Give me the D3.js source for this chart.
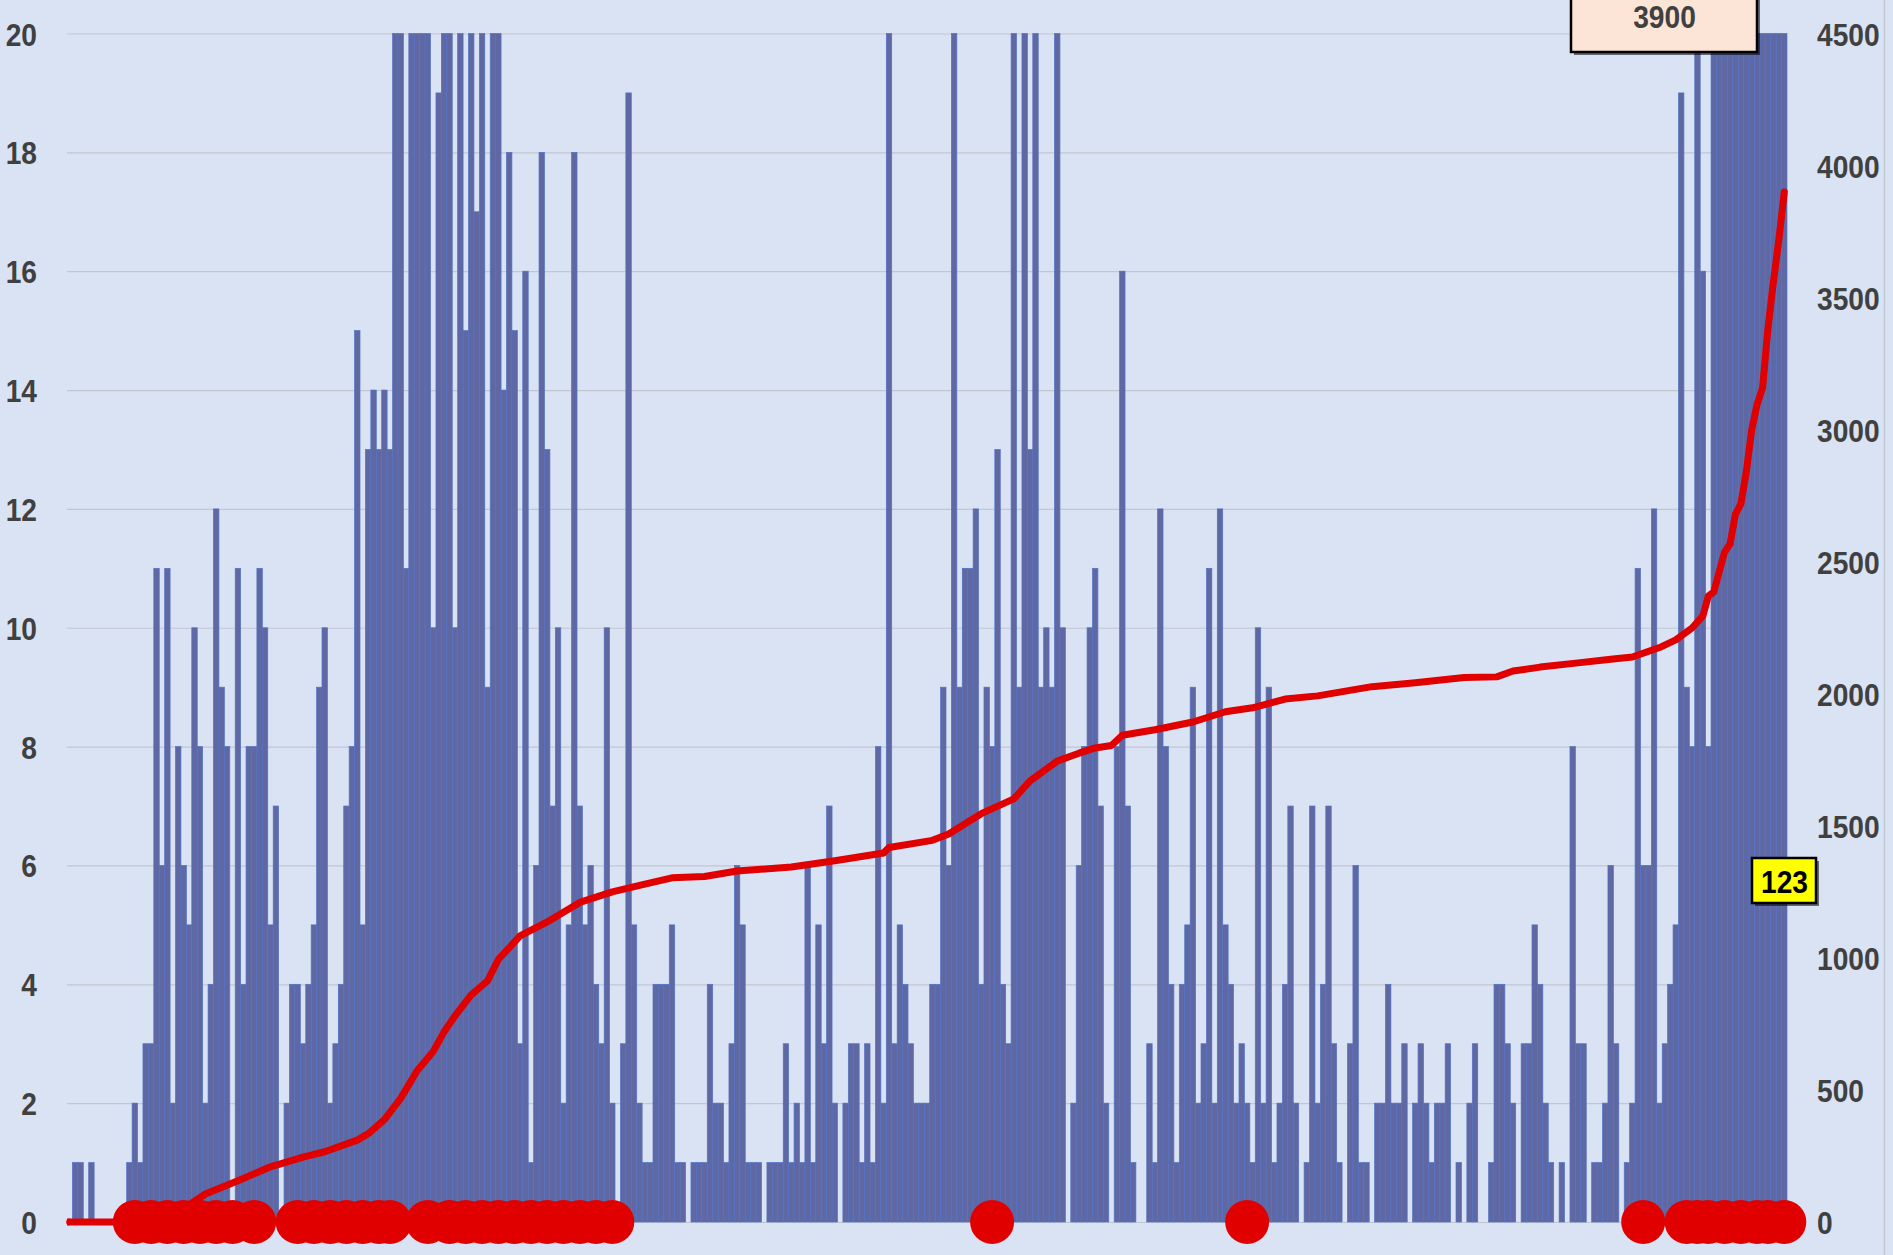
<!DOCTYPE html>
<html><head><meta charset="utf-8">
<script src="https://cdn.jsdelivr.net/npm/d3@7"></script>
<style>
html,body{margin:0;padding:0;background:#dae3f3;}
svg{display:block;}
</style></head><body>
<svg id="chart" width="1893" height="1255"></svg>
<script>
// daily values (left axis, shown clipped at 20)
const daily = [
 0,1,1,0,1,0,0,0,0,0,0,1,2,1,3,3,11,6,11,2,8,6,5,10,8,2,
 4,12,9,8,0,11,4,8,8,11,10,5,7,0,2,4,4,3,4,5,9,10,2,3,4,7,8,
 15,5,13,14,13,14,13,22,31,11,25,36,42,29,10,19,33,27,10,38,15,24,17,35,9,26,
 30,14,18,15,3,16,1,6,18,13,7,10,2,5,18,7,5,6,4,3,10,2,0,3,19,5,
 2,1,1,4,4,4,5,1,1,0,1,1,1,4,2,2,1,3,6,5,1,1,1,0,1,1,1,3,
 1,2,1,6,1,5,3,7,2,0,2,3,3,1,3,1,8,2,24,3,5,4,3,2,2,2,4,
 4,9,6,26,9,11,11,12,4,9,8,13,4,3,30,9,28,13,33,9,10,9,25,10,0,2,
 6,8,10,11,7,2,0,8,16,7,1,0,0,3,1,12,8,4,1,4,5,9,2,3,11,2,12,
 5,4,2,3,2,1,10,2,9,1,2,4,7,2,0,1,7,2,4,7,3,1,0,3,6,1,1,
 0,2,2,4,2,2,3,0,2,3,2,1,2,2,3,0,1,0,2,3,0,0,1,4,4,3,2,
 0,3,3,5,4,2,1,0,1,0,8,3,3,0,1,1,2,6,3,0,1,2,11,6,6,12,
 2,3,4,5,19,9,8,45,16,8,40,70,50,30,140,60,150,110,60,70,220,180,140,123
];
// cumulative total (right axis), read at these day positions
const cumDay = [0,11,12,16,20,25,31,37,43,47,53,55,58,61,64,67,69,71,74,77,79,83,88,94,100,106,111,117,123,133,141,150,151,159,162,168,174,177,182,186,189,192,194,200,207,213,218,224,230,240,248,257,263,266,271,278,284,288,293,296,299,301,302,303,305,306,307,308,309,310,311,312,313,314,315,316];
const cumTotal = [0,0,2,12,37,106,156,209,246,266,310,334,388,468,572,646,720,780,860,913,994,1083,1136,1210,1250,1279,1303,1308,1329,1344,1368,1397,1418,1445,1469,1546,1602,1670,1745,1775,1795,1804,1843,1864,1893,1932,1947,1980,1992,2027,2042,2062,2064,2086,2101,2117,2131,2139,2175,2204,2249,2295,2370,2385,2537,2567,2680,2719,2840,3000,3097,3158,3385,3560,3720,3900];
// days marked with a red dot
const dotDays = [12,15,18,21,24,27,30,34,42,45,48,51,54,57,59,66,70,73,76,79,82,85,88,91,94,97,100,170,217,290,298,300,302,305,308,311,313,316];
const leftTicks = [0,2,4,6,8,10,12,14,16,18,20];
const rightTicks = [0,500,1000,1500,2000,2500,3000,3500,4000,4500];
const totalLabel = "3900";
const lastLabel = "123";

const svg = d3.select("#chart");
const L = 67, R = 1787, TOP = 33.5, BOT = 1222;

const x = d3.scaleBand().domain(d3.range(daily.length)).range([L, R]).paddingInner(0);
const yL = d3.scaleLinear().domain([0, 20]).range([BOT, TOP]).clamp(true);
const yR = d3.scaleLinear().domain([0, 4500]).range([BOT, TOP]);

// gridlines
const grid = svg.append("g").attr("transform", `translate(${L},0)`)
  .call(d3.axisLeft(yL).tickValues(leftTicks).tickSize(-(R - L)).tickFormat(""));
grid.select(".domain").remove();
grid.selectAll("line").attr("stroke", "#c2c6cf").attr("stroke-width", 1.2);

// bars
svg.append("g").selectAll("rect").data(daily).join("rect")
  .attr("x", (d, i) => x(i))
  .attr("width", x.bandwidth())
  .attr("y", d => yL(d))
  .attr("height", d => BOT - yL(d))
  .attr("fill", "#6068a4")
  .attr("stroke", "#5272c6")
  .attr("stroke-width", 0.7);

// cumulative line
const line = d3.line()
  .x((d, k) => x(cumDay[k]) + x.bandwidth() / 2)
  .y(d => yR(d));
svg.append("path").datum(cumTotal)
  .attr("d", line)
  .attr("fill", "none")
  .attr("stroke", "#e00000")
  .attr("stroke-width", 7)
  .attr("stroke-linejoin", "round")
  .attr("stroke-linecap", "round");
svg.append("line")
  .attr("x1", L).attr("x2", x(0) + x.bandwidth() / 2)
  .attr("y1", yR(0)).attr("y2", yR(0))
  .attr("stroke", "#e00000").attr("stroke-width", 7);

// dots
svg.append("g").selectAll("circle").data(dotDays).join("circle")
  .attr("cx", d => x(d) + x.bandwidth() / 2)
  .attr("cy", yR(0))
  .attr("r", 22)
  .attr("fill", "#e00000");

function styleText(sel, color) {
  sel.attr("font-family", "'Liberation Sans', Arial, sans-serif")
     .attr("font-weight", "bold")
     .attr("font-size", 32)
     .attr("fill", color || "#404040")
     .attr("transform", "scale(0.88,1)");
}

// left axis labels
const la = svg.append("g").attr("transform", "translate(37,0)")
  .call(d3.axisLeft(yL).tickValues(leftTicks).tickSize(0).tickPadding(0).tickFormat(d3.format("d")));
la.select(".domain").remove();
la.selectAll("text").attr("dy", "0.36em").call(styleText);

// right axis labels
const ra = svg.append("g").attr("transform", "translate(1817,0)")
  .call(d3.axisRight(yR).tickValues(rightTicks).tickSize(0).tickPadding(0).tickFormat(d3.format("d")));
ra.select(".domain").remove();
ra.selectAll("text").attr("dy", "0.36em").attr("text-anchor", "start").call(styleText);

// label boxes
function box(x0, y0, w, h, fill, text, tx, ty, color) {
  svg.append("rect").attr("x", x0 + 3).attr("y", y0 + 3).attr("width", w).attr("height", h)
    .attr("fill", "#000").attr("opacity", 0.55);
  svg.append("rect").attr("x", x0).attr("y", y0).attr("width", w).attr("height", h)
    .attr("fill", fill).attr("stroke", "#000").attr("stroke-width", 2.5);
  svg.append("g").attr("transform", `translate(${tx},${ty})`)
    .append("text").attr("text-anchor", "middle").text(text).call(styleText, color);
}
box(1571, -6, 186, 58, "#fce4d6", totalLabel, 1664.5, 28, "#404040");
box(1752, 858, 64, 45, "#ffff00", lastLabel, 1784.5, 893, "#000");

// right border of chart area
svg.append("line").attr("x1", 1884.5).attr("x2", 1884.5).attr("y1", 0).attr("y2", 1255)
  .attr("stroke", "#c4c8d0").attr("stroke-width", 1.5);
</script>
</body></html>
